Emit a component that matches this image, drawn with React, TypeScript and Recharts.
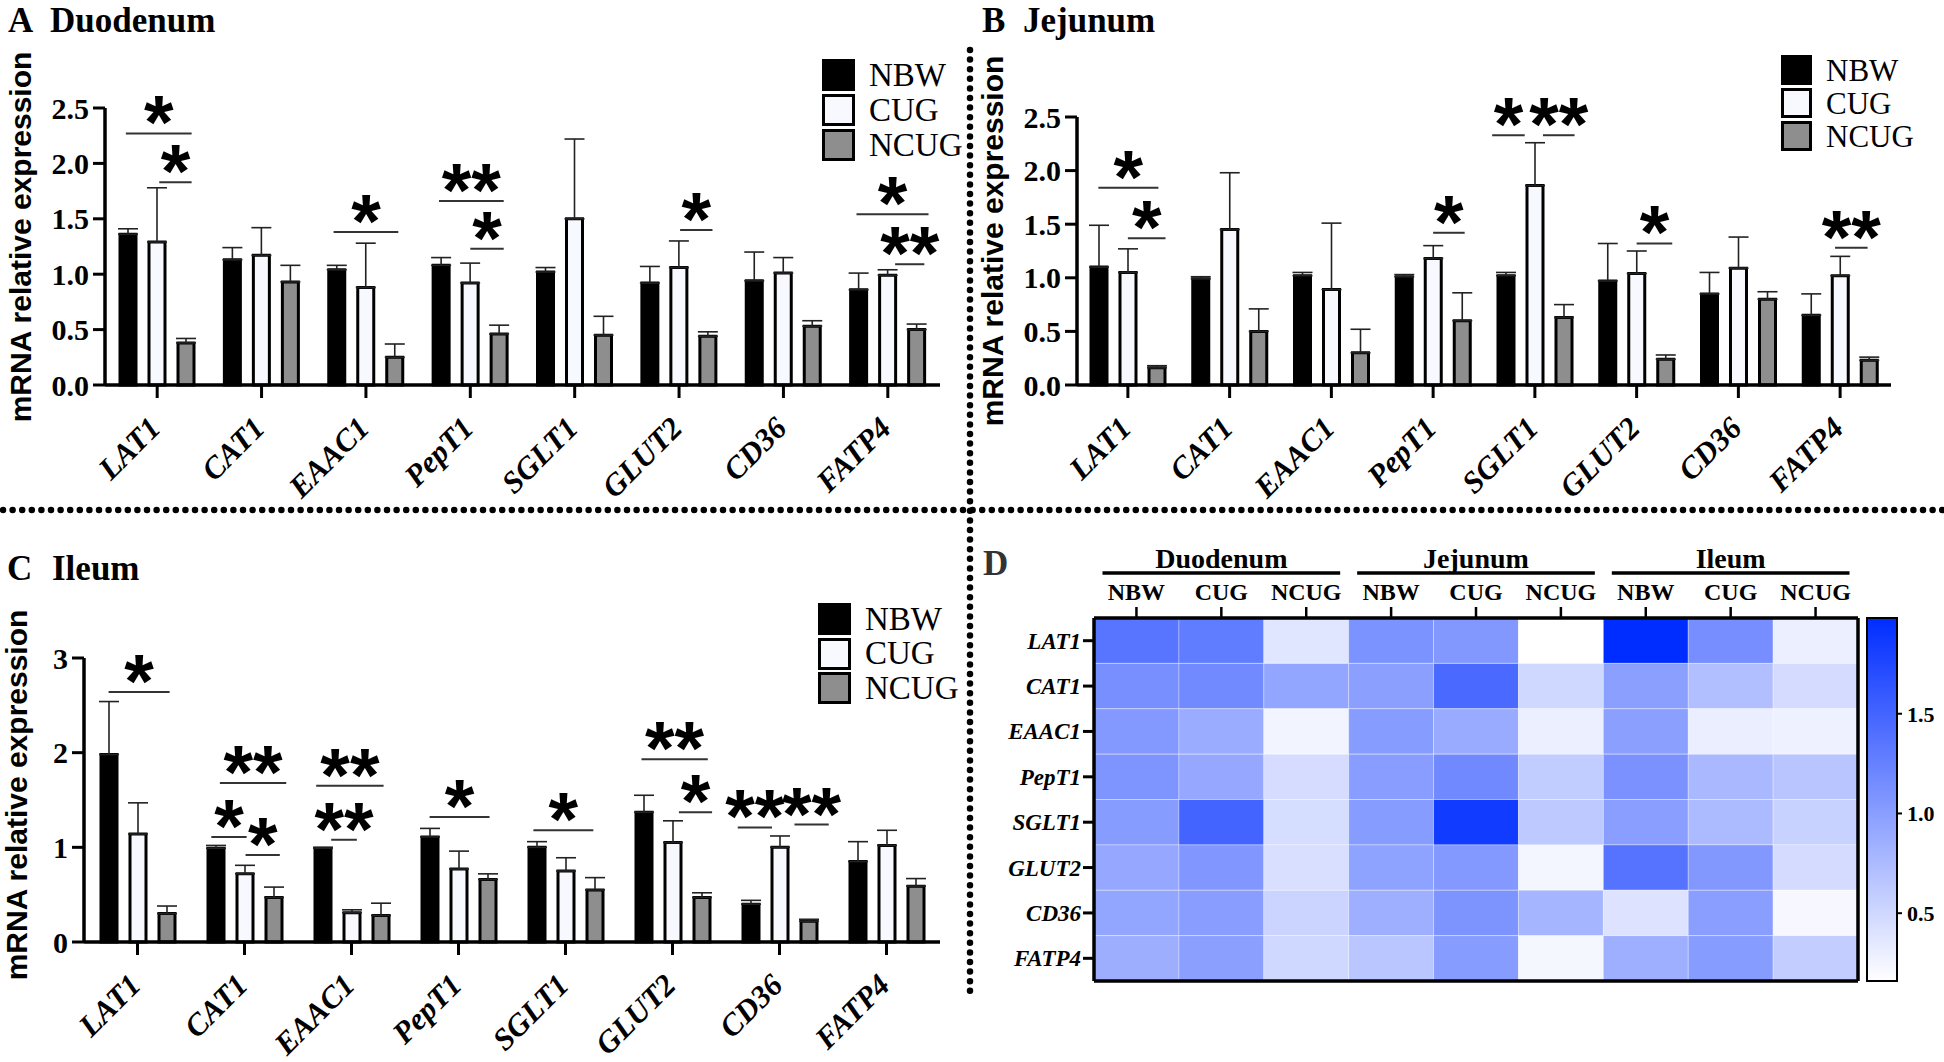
import { Bar, BarChart, Cell, ErrorBar, Legend, ReferenceLine, XAxis, YAxis } from 'recharts'

const SERIF = "'Liberation Serif', 'Times New Roman', serif"
const SANS = "'Liberation Sans', Arial, sans-serif"

// categories
const GENES = ['LAT1', 'CAT1', 'EAAC1', 'PepT1', 'SGLT1', 'GLUT2', 'CD36', 'FATP4']
const GROUPS = ['NBW', 'CUG', 'NCUG']
const SEGMENTS = ['Duodenum', 'Jejunum', 'Ileum']

// Duodenum means and upper error
const duoNBW = [1.36, 1.13, 1.04, 1.08, 1.02, 0.92, 0.94, 0.86]
const duoCUG = [1.29, 1.17, 0.88, 0.92, 1.5, 1.06, 1.01, 0.99]
const duoNCUG = [0.38, 0.93, 0.25, 0.46, 0.45, 0.44, 0.53, 0.5]
const duoErrNBW = [0.05, 0.11, 0.04, 0.07, 0.04, 0.15, 0.26, 0.15]
const duoErrCUG = [0.49, 0.25, 0.4, 0.18, 0.72, 0.24, 0.14, 0.05]
const duoErrNCUG = [0.04, 0.15, 0.12, 0.08, 0.17, 0.04, 0.05, 0.05]

// Jejunum
const jejNBW = [1.1, 0.99, 1.02, 1.01, 1.02, 0.97, 0.85, 0.65]
const jejCUG = [1.05, 1.45, 0.89, 1.18, 1.86, 1.04, 1.09, 1.02]
const jejNCUG = [0.16, 0.5, 0.3, 0.6, 0.63, 0.24, 0.8, 0.23]
const jejErrNBW = [0.39, 0.02, 0.03, 0.02, 0.03, 0.35, 0.2, 0.2]
const jejErrCUG = [0.22, 0.53, 0.62, 0.12, 0.4, 0.21, 0.29, 0.18]
const jejErrNCUG = [0.02, 0.21, 0.22, 0.26, 0.12, 0.04, 0.07, 0.03]

// Ileum
const ileNBW = [1.98, 0.99, 0.99, 1.11, 1.0, 1.37, 0.4, 0.85]
const ileCUG = [1.14, 0.72, 0.31, 0.77, 0.75, 1.05, 1.0, 1.02]
const ileNCUG = [0.3, 0.47, 0.28, 0.66, 0.55, 0.47, 0.22, 0.59]
const ileErrNBW = [0.56, 0.03, 0.01, 0.09, 0.06, 0.18, 0.04, 0.21]
const ileErrCUG = [0.33, 0.09, 0.03, 0.19, 0.14, 0.23, 0.12, 0.16]
const ileErrNCUG = [0.08, 0.11, 0.13, 0.06, 0.13, 0.05, 0.02, 0.08]

// significance marks: [gene index, line start, line end (offsets in category widths), y value, label]
const duoSig = [
  [0, -0.3, 0.33, 2.27, '*'],
  [0, 0.02, 0.33, 1.83, '*'],
  [2, -0.31, 0.31, 1.38, '*'],
  [3, -0.3, 0.32, 1.66, '**'],
  [3, 0.0, 0.32, 1.23, '*'],
  [5, 0.01, 0.32, 1.4, '*'],
  [7, -0.3, 0.39, 1.54, '*'],
  [7, 0.07, 0.35, 1.09, '**'],
]
const jejSig = [
  [0, -0.29, 0.3, 1.84, '*'],
  [0, 0.0, 0.37, 1.37, '*'],
  [3, 0.0, 0.31, 1.42, '*'],
  [4, -0.42, -0.1, 2.33, '*'],
  [4, 0.08, 0.39, 2.33, '**'],
  [5, 0.0, 0.35, 1.32, '*'],
  [7, -0.05, 0.27, 1.28, '**'],
]
const ileSig = [
  [0, -0.27, 0.3, 2.64, '*'],
  [1, -0.23, 0.39, 1.68, '**'],
  [1, -0.31, 0.02, 1.11, '*'],
  [1, 0.01, 0.33, 0.92, '*'],
  [2, -0.33, 0.3, 1.65, '**'],
  [2, -0.19, 0.05, 1.08, '**'],
  [3, -0.27, 0.29, 1.32, '*'],
  [4, -0.3, 0.26, 1.18, '*'],
  [5, -0.29, 0.33, 1.93, '**'],
  [5, 0.06, 0.37, 1.37, '*'],
  [6, -0.39, -0.07, 1.21, '**'],
  [6, 0.14, 0.46, 1.24, '**'],
]

const FILLS = ['#000000', '#f8f9ff', '#8e8e8e']

// heatmap columns (segment x group) reuse the bar means
const heatValues = [duoNBW, duoCUG, duoNCUG, jejNBW, jejCUG, jejNCUG, ileNBW, ileCUG, ileNCUG]
const allValues = heatValues.flat()
const vMin = Math.min(...allValues)
const vMax = Math.max(...allValues)
const MAX_RGB = [0, 45, 255]

function heatColor(v: number) {
  const t = (v - vMin) / (vMax - vMin)
  const r = Math.round(255 + (MAX_RGB[0] - 255) * t)
  const g = Math.round(255 + (MAX_RGB[1] - 255) * t)
  return `rgb(${r},${g},255)`
}

const HEAT_PLOT_W = 764
const CELL_W = HEAT_PLOT_W / 9

function GeneTick({ x, y, payload }: any) {
  return (
    <g transform={`translate(${x + 5},${y + 30})`}>
      <text transform="rotate(-45)" textAnchor="end" fontFamily={SERIF} fontStyle="italic" fontWeight="bold" fontSize={31} fill="#000">
        {payload.value}
      </text>
    </g>
  )
}

function SigStar(props: any) {
  const vb = props.viewBox || { x: 0, y: 0, width: 0 }
  return (
    <text x={vb.x + vb.width / 2} y={vb.y + 15} textAnchor="middle" fontFamily={SANS} fontWeight="bold" fontSize={76} fill="#000">
      {props.text}
    </text>
  )
}

function YTitle({ tx, ty }: any) {
  return (
    <text transform={`translate(${tx},${ty}) rotate(-90)`} textAnchor="middle" fontFamily={SANS} fontWeight="bold" fontSize={30} fill="#000">
      mRNA relative expression
    </text>
  )
}

function GroupLegend({ boxW, boxH, pitch, font }: any) {
  return (
    <div style={{ position: 'relative' }}>
      {GROUPS.map((g, i) => (
        <div key={g} style={{ position: 'absolute', left: 0, top: i * pitch, height: boxH, display: 'flex', alignItems: 'center' }}>
          <div style={{ width: boxW, height: boxH, boxSizing: 'border-box', border: '3px solid #000', background: FILLS[i] }} />
          <span style={{ marginLeft: 14, fontFamily: SERIF, fontSize: font, lineHeight: 1, color: '#000', whiteSpace: 'nowrap' }}>{g}</span>
        </div>
      ))}
    </div>
  )
}

function ExprChart(p: any) {
  const data = GENES.map((g, i) => ({
    gene: g,
    pos: i + 0.5,
    NBW: p.nbw[i],
    CUG: p.cug[i],
    NCUG: p.ncug[i],
    eNBW: [0, p.eNbw[i]],
    eCUG: [0, p.eCug[i]],
    eNCUG: [0, p.eNcug[i]],
  }))
  const keys = ['NBW', 'CUG', 'NCUG']

  return (
    <BarChart width={p.width} height={p.height} data={data} margin={{ top: p.plotTop, right: p.right, bottom: 0, left: 0 }} barSize={16} barGap={13}>
      <XAxis
        dataKey="gene"
        interval={0}
        height={p.height - p.plotBottom}
        tick={<GeneTick />}
        tickSize={13}
        tickLine={{ stroke: '#000', strokeWidth: 3 }}
        axisLine={{ stroke: '#000', strokeWidth: 3.5 }}
      />
      <XAxis xAxisId="pos" type="number" dataKey="pos" domain={[0, 8]} hide />
      <YAxis
        width={p.axisW}
        domain={[0, p.yMax]}
        ticks={p.yTicks}
        tickFormatter={p.fmt}
        tickSize={12}
        tickMargin={4}
        tickLine={{ stroke: '#000', strokeWidth: 3 }}
        axisLine={{ stroke: '#000', strokeWidth: 3.5 }}
        tick={{ fontFamily: SERIF, fontWeight: 'bold', fontSize: 30, fill: '#000' }}
        label={<YTitle tx={p.yTitleX} ty={p.yTitleY} />}
      />
      {keys.map((k, i) => (
        <Bar key={k} dataKey={k} fill={FILLS[i]} stroke="#000" strokeWidth={3} isAnimationActive={false}>
          <ErrorBar dataKey={'e' + k} direction="y" width={10} stroke="#222" strokeWidth={1.6} />
        </Bar>
      ))}
      {p.sigs.map((s: any, idx: number) => (
        <ReferenceLine
          key={idx}
          xAxisId="pos"
          ifOverflow="visible"
          segment={[
            { x: s[0] + 0.5 + s[1], y: s[3] },
            { x: s[0] + 0.5 + s[2], y: s[3] },
          ]}
          stroke="#333"
          strokeWidth={2}
          label={<SigStar text={s[4]} />}
        />
      ))}
      <Legend
        layout="vertical"
        align="center"
        verticalAlign="middle"
        wrapperStyle={{ left: p.legend.left, top: p.legend.top, width: 160, height: 110 }}
        content={() => <GroupLegend {...p.legend} />}
      />
    </BarChart>
  )
}

function HeatColTick({ x, y, payload, index }: any) {
  const [seg, grp] = String(payload.value).split('|')
  return (
    <g>
      <text x={x} y={y - 5} textAnchor="middle" fontFamily={SERIF} fontWeight="bold" fontSize={24} fill="#000">
        {grp}
      </text>
      {index % 3 === 1 && (
        <g>
          <line x1={x - 1.4 * CELL_W} x2={x + 1.4 * CELL_W} y1={y - 32} y2={y - 32} stroke="#000" strokeWidth={3.5} />
          <text x={x} y={y - 37} textAnchor="middle" fontFamily={SERIF} fontWeight="bold" fontSize={28} fill="#000">
            {seg}
          </text>
        </g>
      )}
    </g>
  )
}

function HeatRowTick({ x, y, payload }: any) {
  return (
    <text x={x} y={y + 8} textAnchor="end" fontFamily={SERIF} fontStyle="italic" fontWeight="bold" fontSize={23} fill="#000">
      {GENES[Math.floor(payload.value)]}
    </text>
  )
}

function Heatmap() {
  const rows = SEGMENTS.flatMap((seg) =>
    GROUPS.map((grp) => ({ key: `${seg}|${grp}`, ...Object.fromEntries(GENES.map((g) => [g, 1])) }))
  )
  return (
    <BarChart width={969} height={542} data={rows} margin={{ top: 38, right: 85, bottom: 80, left: 0 }} barCategoryGap={0} barGap={0}>
      <XAxis
        xAxisId="top"
        dataKey="key"
        orientation="top"
        interval={0}
        height={60}
        tick={<HeatColTick />}
        tickSize={11}
        tickLine={{ stroke: '#000', strokeWidth: 2.5 }}
        axisLine={{ stroke: '#000', strokeWidth: 3.5 }}
      />
      <XAxis xAxisId="bot" dataKey="key" orientation="bottom" height={1} tick={false} tickLine={false} axisLine={{ stroke: '#000', strokeWidth: 3.5 }} />
      <YAxis
        type="number"
        domain={[0, 8]}
        reversed
        ticks={GENES.map((_, i) => i + 0.5)}
        interval={0}
        width={119}
        tick={<HeatRowTick />}
        tickSize={11}
        tickLine={{ stroke: '#000', strokeWidth: 3 }}
        axisLine={{ stroke: '#000', strokeWidth: 3.5 }}
      />
      <YAxis yAxisId="r" orientation="right" type="number" domain={[0, 8]} width={1} tick={false} tickLine={false} axisLine={{ stroke: '#000', strokeWidth: 3.5 }} />
      {GENES.map((g, j) => (
        <Bar key={g} xAxisId="top" dataKey={g} stackId="heat" isAnimationActive={false} stroke="#ffffff" strokeOpacity={0.35} strokeWidth={1}>
          {rows.map((_, i) => (
            <Cell key={i} fill={heatColor(heatValues[i][j])} />
          ))}
        </Bar>
      ))}
    </BarChart>
  )
}

function ColorBar() {
  const data = [{ name: 'scale', range: [vMin, vMax] }]
  return (
    <BarChart width={84} height={400} data={data} margin={{ top: 18, right: 0, bottom: 19, left: 7 }} barCategoryGap={0}>
      <XAxis dataKey="name" hide />
      <YAxis
        orientation="right"
        type="number"
        domain={[vMin, vMax]}
        ticks={[0.5, 1.0, 1.5]}
        tickFormatter={(v: number) => v.toFixed(1)}
        width={47}
        axisLine={false}
        tickSize={5}
        tickMargin={5}
        tickLine={{ stroke: '#000', strokeWidth: 2 }}
        tick={{ fontFamily: SERIF, fontWeight: 'bold', fontSize: 22, fill: '#000' }}
      />
      <Bar dataKey="range" fill="url(#cbarGrad)" stroke="#000" strokeWidth={2} isAnimationActive={false} />
    </BarChart>
  )
}

const fmt1 = (v: number) => v.toFixed(1)
const fmt0 = (v: number) => String(v)

export default function App() {
  const titleStyle = { fontFamily: SERIF, fontWeight: 'bold' as const, fontSize: 35, fill: '#000' }
  return (
    <div style={{ position: 'absolute', left: 0, top: 0, width: 1944, height: 1062, background: '#fff', overflow: 'hidden' }}>
      <svg width={1944} height={1062} style={{ position: 'absolute', left: 0, top: 0 }}>
        <defs>
          <linearGradient id="cbarGrad" x1="0" y1="1" x2="0" y2="0">
            <stop offset="0" stopColor="#ffffff" />
            <stop offset="1" stopColor={`rgb(${MAX_RGB.join(',')})`} />
          </linearGradient>
        </defs>
        <line x1={3} y1={510} x2={1944} y2={510} stroke="#000" strokeWidth={6.5} strokeDasharray="0 9.6" strokeLinecap="round" />
        <line x1={970} y1={50} x2={970} y2={995} stroke="#000" strokeWidth={6.5} strokeDasharray="0 9.6" strokeLinecap="round" />
        <text x={8} y={32} {...titleStyle}>A</text>
        <text x={50} y={32} {...titleStyle}>Duodenum</text>
        <text x={982} y={32} {...titleStyle}>B</text>
        <text x={1023} y={32} {...titleStyle}>Jejunum</text>
        <text x={7} y={580} {...titleStyle}>C</text>
        <text x={52} y={580} {...titleStyle}>Ileum</text>
        <text x={983} y={575} {...titleStyle} fill="#333">D</text>
      </svg>

      <div style={{ position: 'absolute', left: 0, top: 0 }}>
        <ExprChart
          width={975} height={516} axisW={105} plotTop={108} plotBottom={385} right={35}
          yMax={2.5} yTicks={[0, 0.5, 1, 1.5, 2, 2.5]} fmt={fmt1} yTitleX={31} yTitleY={237}
          nbw={duoNBW} cug={duoCUG} ncug={duoNCUG} eNbw={duoErrNBW} eCug={duoErrCUG} eNcug={duoErrNCUG}
          sigs={duoSig}
          legend={{ left: 822, top: 59, boxW: 33, boxH: 32, pitch: 35, font: 33 }}
        />
      </div>
      <div style={{ position: 'absolute', left: 975, top: 0 }}>
        <ExprChart
          width={969} height={516} axisW={102} plotTop={117} plotBottom={385} right={53}
          yMax={2.5} yTicks={[0, 0.5, 1, 1.5, 2, 2.5]} fmt={fmt1} yTitleX={28} yTitleY={241}
          nbw={jejNBW} cug={jejCUG} ncug={jejNCUG} eNbw={jejErrNBW} eCug={jejErrCUG} eNcug={jejErrNCUG}
          sigs={jejSig}
          legend={{ left: 806, top: 55, boxW: 31, boxH: 30, pitch: 33, font: 31 }}
        />
      </div>
      <div style={{ position: 'absolute', left: 0, top: 520 }}>
        <ExprChart
          width={975} height={542} axisW={84} plotTop={138} plotBottom={422} right={35}
          yMax={3} yTicks={[0, 1, 2, 3]} fmt={fmt0} yTitleX={27} yTitleY={275}
          nbw={ileNBW} cug={ileCUG} ncug={ileNCUG} eNbw={ileErrNBW} eCug={ileErrCUG} eNcug={ileErrNCUG}
          sigs={ileSig}
          legend={{ left: 818, top: 83, boxW: 33, boxH: 32, pitch: 34.5, font: 33 }}
        />
      </div>
      <div style={{ position: 'absolute', left: 975, top: 520 }}>
        <Heatmap />
      </div>
      <div style={{ position: 'absolute', left: 1860, top: 600 }}>
        <ColorBar />
      </div>
    </div>
  )
}
